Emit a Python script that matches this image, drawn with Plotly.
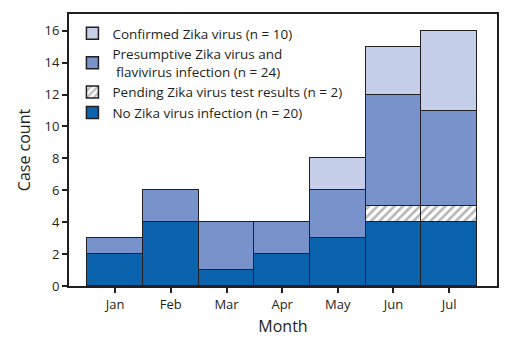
import plotly.graph_objects as go

months = ["Jan", "Feb", "Mar", "Apr", "May", "Jun", "Jul"]
no_zika = [2, 4, 1, 2, 3, 4, 4]
pending = [0, 0, 0, 0, 0, 1, 1]
presumptive = [1, 2, 3, 2, 3, 7, 6]
confirmed = [0, 0, 0, 0, 2, 3, 5]

series = [
    ("No Zika virus infection (n = 20)", no_zika, "#0a63ac", ""),
    ("Pending Zika virus test results (n = 2)", pending, "#ffffff", "/"),
    ("Presumptive Zika virus and<br> flavivirus infection (n = 24)", presumptive, "#7893cc", ""),
    ("Confirmed Zika virus (n = 10)", confirmed, "#c5cfe9", ""),
]

fig = go.Figure()
for name, vals, color, pat in series:
    fig.add_trace(go.Bar(
        x=list(range(len(months))), y=vals, name=name,
        marker=dict(color=color, line=dict(color="#231f20", width=1.5),
                    pattern=dict(shape=pat, fgcolor="#707070", bgcolor="#ffffff", size=6, solidity=0.45) if pat else None),
    ))

fig.update_layout(
    barmode="stack", bargap=0,
    width=511, height=346,
    margin=dict(l=69, r=14, t=12, b=60),
    paper_bgcolor="white", plot_bgcolor="white",
    font=dict(family="Open Sans, Lato, sans-serif", size=13, color="#231f20"),
    showlegend=True,
    legend=dict(x=0.008, y=0.985, xanchor="left", yanchor="top", traceorder="reversed",
                bgcolor="rgba(0,0,0,0)", font=dict(size=13.5), tracegroupgap=0, itemwidth=30),
    xaxis=dict(tickmode="array", tickvals=list(range(len(months))), ticktext=months,
               range=[-0.83, 6.86], showline=True, linecolor="#231f20", linewidth=2, mirror=True,
               ticks="outside", ticklen=5, tickwidth=2, tickcolor="#231f20", showgrid=False,
               title=dict(text="Month", font=dict(size=16), standoff=9)),
    yaxis=dict(range=[0, 17.05], tickvals=list(range(0, 17, 2)), showline=True, linecolor="#231f20",
               linewidth=2, mirror=True, ticks="outside", ticklen=5, tickwidth=2, tickcolor="#231f20",
               showgrid=False, zeroline=False,
               title=dict(text="Case count", font=dict(size=16), standoff=10)),
)

fig.write_html("out.html")
